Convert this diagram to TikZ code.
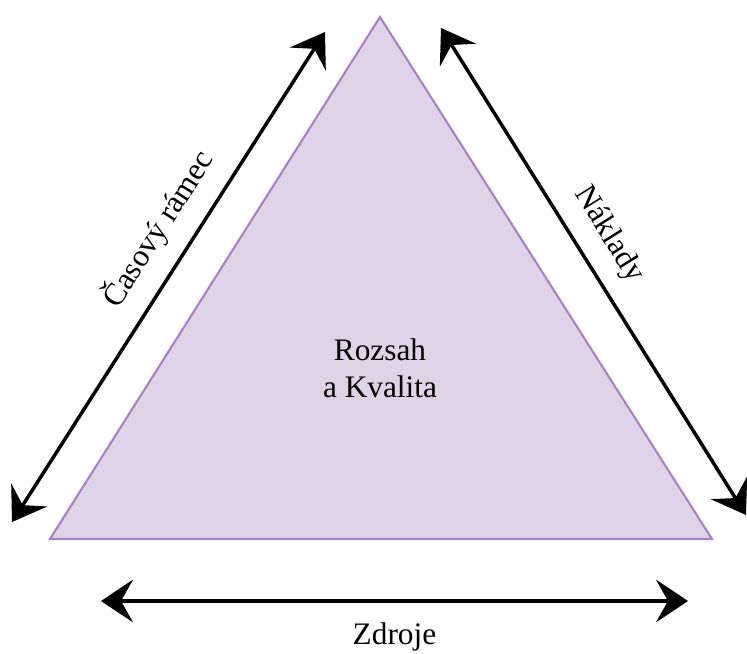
\documentclass[tikz,border=0pt]{standalone}
\usepackage{fontspec}
\setmainfont{Liberation Serif}
\usetikzlibrary{arrows.meta}
\definecolor{scopefill}{RGB}{224,211,232}
\definecolor{scopeline}{RGB}{170,130,196}
\tikzset{% common styles of the triangle picture
  scope/.style   = {draw=scopeline, fill=scopefill, line width=1.6pt,
                    line join=miter},
  limit/.style   = {draw, line width=2.6pt,
                    {Stealth[length=24pt, width=32pt, inset=9pt]}-{Stealth[length=24pt, width=32pt, inset=9pt]}},
  label/.style   = {font=\fontsize{23.5}{28}\selectfont, align=center},
}

\begin{document}
\begin{tikzpicture}[% local settings, one unit is one pixel of the page
            x = 0.75pt,
            y = -0.75pt,
            every node/.append style = {label}
        ]
        \useasboundingbox (0,0) rectangle (747,654);
        % corners of the triangle
        \coordinate (top)   at (380,17);
        \coordinate (left)  at (50,539);
        \coordinate (right) at (712,539);
        \draw [scope] (top) -- (left) -- (right) -- cycle;
        \node (inner) at (380,368) {Rozsah\\a Kvalita};
        % ends of the three constraints
        \coordinate (time a) at (12,522);
        \coordinate (time b) at (325,32);
        \coordinate (cost a) at (441,28);
        \coordinate (cost b) at (746,515);
        \coordinate (res a)  at (101,601);
        \coordinate (res b)  at (688,601);
        \draw [limit] (time a) -- node (time) [pos=0.56, sloped, above=9pt] {Časový rámec} (time b);
        \draw [limit] (cost a) -- node (cost) [pos=0.46, sloped, above=9pt] {Náklady} (cost b);
        \draw [limit] (res a)  -- node (res) [below=12pt] {Zdroje} (res b);
    \end{tikzpicture}
\end{document}
